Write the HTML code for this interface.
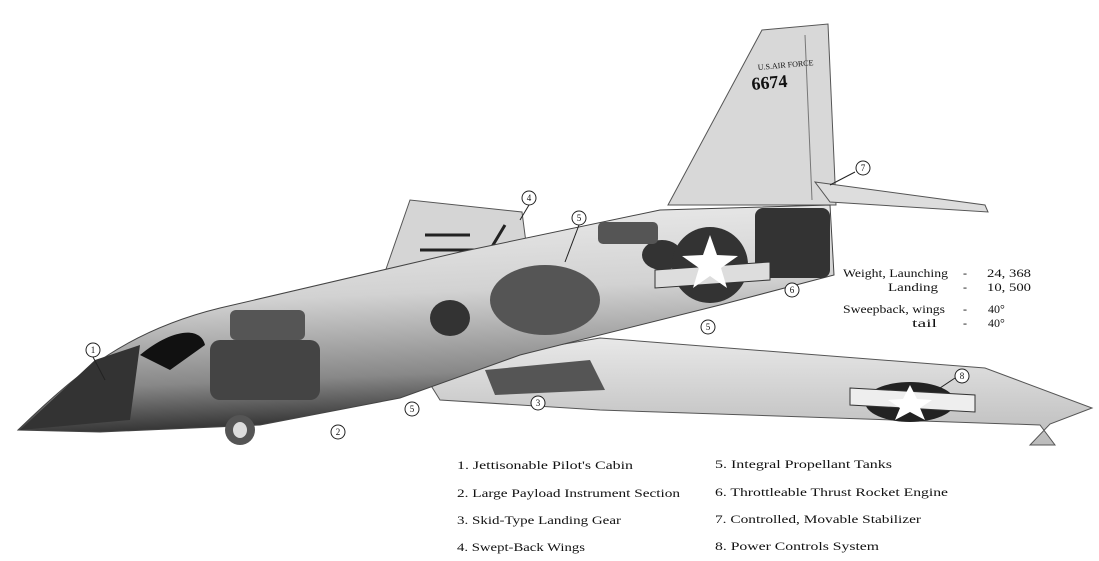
<!DOCTYPE html>
<html><head><style>
body{margin:0;background:#fff;}
svg{display:block}
text{font-family:"Liberation Serif",serif;fill:#111}
</style></head><body>
<svg width="1099" height="561" viewBox="0 0 1099 561">
<defs>
<linearGradient id="fus" x1="0" y1="0" x2="0.15" y2="1">
<stop offset="0" stop-color="#eee"/><stop offset="0.45" stop-color="#d2d2d2"/><stop offset="0.8" stop-color="#888"/><stop offset="1" stop-color="#333"/>
</linearGradient>
<linearGradient id="wing" x1="0" y1="0" x2="0" y2="1">
<stop offset="0" stop-color="#e8e8e8"/><stop offset="1" stop-color="#bbb"/>
</linearGradient>
</defs>
<polygon points="668,205 762,30 828,24 836,205" fill="#d8d8d8" stroke="#555"/>
<line x1="805" y1="35" x2="812" y2="200" stroke="#777"/>
<text x="758" y="70" font-size="8" transform="rotate(-5 758 70)" font-family="Liberation Sans">U.S.AIR FORCE</text>
<text x="752" y="90" font-size="18" font-weight="bold" font-family="Liberation Sans" transform="rotate(-5 752 90)">6674</text>
<polygon points="815,182 985,205 988,212 830,202" fill="#ddd" stroke="#555"/>
<polygon points="385,272 410,200 522,212 528,258" fill="#d5d5d5" stroke="#555"/>
<path d="M425,235 L470,235 M420,250 L490,250 L505,225" stroke="#222" stroke-width="3" fill="none"/>
<polygon points="420,368 600,338 985,368 1092,408 1050,424 1030,445 1055,445 1040,425 600,410 440,400" fill="url(#wing)" stroke="#555"/>
<ellipse cx="910" cy="402" rx="45" ry="20" fill="#222"/>
<polygon points="850,388 975,395 975,412 850,405" fill="#eee" stroke="#333"/>
<polygon points="910,385 917,399 932,400 920,408 925,420 910,412 895,420 900,408 888,400 903,399" fill="#fff"/>
<path d="M18,430 C80,370 130,330 220,308 L460,252 L660,210 L830,205 L834,275 L720,305 L520,355 L400,398 L260,425 L100,432 Z" fill="url(#fus)" stroke="#444"/>
<path d="M20,430 L95,360 L140,345 L130,420 Z" fill="#333"/>
<path d="M140,355 C170,330 200,325 205,345 L170,370 Z" fill="#111"/>
<rect x="210" y="340" width="110" height="60" rx="10" fill="#444"/>
<rect x="230" y="310" width="75" height="30" rx="6" fill="#555"/>
<ellipse cx="545" cy="300" rx="55" ry="35" fill="#555"/>
<ellipse cx="450" cy="318" rx="20" ry="18" fill="#333"/>
<ellipse cx="662" cy="255" rx="20" ry="15" fill="#333"/>
<rect x="598" y="222" width="60" height="22" rx="5" fill="#555"/>
<rect x="755" y="208" width="75" height="70" rx="8" fill="#333"/>
<ellipse cx="710" cy="265" rx="38" ry="38" fill="#333"/>
<polygon points="655,270 770,262 770,280 655,288" fill="#ddd" stroke="#333"/>
<polygon points="710,235 717,255 738,256 721,268 727,288 710,276 693,288 699,268 682,256 703,255" fill="#fff"/>
<ellipse cx="240" cy="430" rx="15" ry="15" fill="#555"/>
<ellipse cx="240" cy="430" rx="7" ry="8" fill="#ddd"/>
<path d="M485,370 L590,360 L605,390 L495,395 Z" fill="#555"/>
<g fill="#fff" stroke="#222">
<circle cx="93" cy="350" r="7"/><circle cx="338" cy="432" r="7"/><circle cx="538" cy="403" r="7"/><circle cx="529" cy="198" r="7"/>
<circle cx="579" cy="218" r="7"/><circle cx="708" cy="327" r="7"/><circle cx="412" cy="409" r="7"/><circle cx="792" cy="290" r="7"/>
<circle cx="863" cy="168" r="7"/><circle cx="962" cy="376" r="7"/>
</g>
<g font-size="9" text-anchor="middle">
<text x="93" y="353">1</text><text x="338" y="435">2</text><text x="538" y="406">3</text><text x="529" y="201">4</text>
<text x="579" y="221">5</text><text x="708" y="330">5</text><text x="412" y="412">5</text><text x="792" y="293">6</text>
<text x="863" y="171">7</text><text x="962" y="379">8</text>
</g>
<g stroke="#222" fill="none"><path d="M93,357 L105,380"/><path d="M529,205 L520,220"/><path d="M579,225 L565,262"/><path d="M855,172 L830,185"/><path d="M955,378 L940,388"/></g>
<g font-size="12">
<text x="843" y="277" textLength="105" lengthAdjust="spacingAndGlyphs">Weight, Launching</text>
<text x="888" y="291" textLength="50" lengthAdjust="spacingAndGlyphs">Landing</text>
<text x="963" y="277">-</text><text x="963" y="291">-</text>
<text x="987" y="277" textLength="44" lengthAdjust="spacingAndGlyphs">24, 368</text>
<text x="987" y="291" textLength="44" lengthAdjust="spacingAndGlyphs">10, 500</text>
<text x="843" y="313" textLength="102" lengthAdjust="spacingAndGlyphs">Sweepback, wings</text>
<text x="912" y="327" textLength="25" lengthAdjust="spacingAndGlyphs">tail</text>
<text x="963" y="313">-</text><text x="963" y="327">-</text>
<text x="988" y="313">40°</text><text x="988" y="327">40°</text>
</g>
<g font-size="12">
<text x="457" y="469" textLength="176" lengthAdjust="spacingAndGlyphs">1.  Jettisonable Pilot's Cabin</text>
<text x="457" y="497" textLength="223" lengthAdjust="spacingAndGlyphs">2.  Large Payload Instrument Section</text>
<text x="457" y="524" textLength="164" lengthAdjust="spacingAndGlyphs">3.  Skid-Type Landing Gear</text>
<text x="457" y="551" textLength="128" lengthAdjust="spacingAndGlyphs">4.  Swept-Back Wings</text>
<text x="715" y="468" textLength="177" lengthAdjust="spacingAndGlyphs">5.  Integral Propellant Tanks</text>
<text x="715" y="496" textLength="233" lengthAdjust="spacingAndGlyphs">6.  Throttleable Thrust Rocket Engine</text>
<text x="715" y="523" textLength="206" lengthAdjust="spacingAndGlyphs">7.  Controlled, Movable Stabilizer</text>
<text x="715" y="550" textLength="164" lengthAdjust="spacingAndGlyphs">8.  Power Controls System</text>
</g>
</svg>
</body></html>
